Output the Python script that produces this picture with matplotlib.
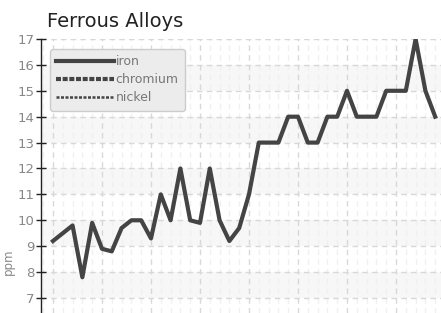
import numpy as np
import matplotlib
matplotlib.use("Agg")
from matplotlib import pyplot as plt
from matplotlib.ticker import MultipleLocator

# Data (ppm per sample)
iron = [9.2, 9.5, 9.8, 7.8, 9.9, 8.9, 8.8, 9.7, 10.0, 10.0,
        9.3, 11.0, 10.0, 12.0, 10.0, 9.9, 12.0, 10.0, 9.2, 9.7,
        11.0, 13.0, 13.0, 13.0, 14.0, 14.0, 13.0, 13.0, 14.0, 14.0,
        15.0, 14.0, 14.0, 14.0, 15.0, 15.0, 15.0, 17.0, 15.0, 14.0]
chromium = []
nickel = []
y_ticks = [7, 8, 9, 10, 11, 12, 13, 14, 15, 16, 17]

line_color = '#444444'
label_color = '#888888'

fig = plt.figure(figsize=(4.41, 3.13), dpi=100)
ax = fig.add_axes([41 / 441, 0.0, 1 - 41 / 441, 1 - 39 / 313])

# alternating background bands
for lo in range(7, 17, 2):
    ax.axhspan(lo, lo + 1, color='#f7f7f7', zorder=0, lw=0)

x = np.arange(len(iron))
ax.plot(x, iron, color=line_color, lw=3, label='iron', zorder=3)
ax.plot(np.arange(len(chromium)), chromium, color=line_color, lw=3,
        linestyle=(0, (1.2, 0.4)), label='chromium')
ax.plot(np.arange(len(nickel)), nickel, color=line_color, lw=1.8,
        linestyle=(0, (1.2, 0.6)), label='nickel')

ax.set_xlim(-1.22, 39.59)
ax.set_ylim(6.42, 17)
ax.set_yticks(y_ticks)
ax.xaxis.set_major_locator(MultipleLocator(5))
ax.xaxis.set_minor_locator(MultipleLocator(1))
ax.tick_params(axis='x', which='both', length=0, labelbottom=False)
ax.tick_params(axis='y', direction='inout', length=7, width=1, color='#222222',
               labelcolor=label_color, labelsize=9.5, pad=1)

ax.grid(axis='y', color='#d8d8d8', linestyle=(0, (4, 3)), lw=1)
ax.grid(axis='x', which='major', color='#d8d8d8', linestyle=(0, (4, 3)), lw=1)
ax.grid(axis='x', which='minor', color='#f0f0f0', linestyle=(0, (4, 3)), lw=1)
ax.set_axisbelow(True)

for s in ['top', 'right', 'bottom']:
    ax.spines[s].set_visible(False)
ax.spines['left'].set_color('#222222')
ax.spines['left'].set_linewidth(1)

ax.set_ylabel('ppm', color=label_color, fontsize=8.5)
ax.yaxis.set_label_coords(-0.065, 0.186)

leg = ax.legend(loc='upper left', bbox_to_anchor=(9 / 400, 0.9635), borderaxespad=0,
                handlelength=4.6, handletextpad=0.15, labelspacing=0.4, borderpad=0.5,
                frameon=True, fancybox=True, prop={'size': 9})
leg.get_frame().set_facecolor('#ececec')
leg.get_frame().set_edgecolor('#cccccc')
leg.get_frame().set_alpha(1)
for t in leg.get_texts():
    t.set_color('#777777')

fig.text(47 / 441, 1 - 27 / 313, 'Ferrous Alloys', fontsize=14, color='#222222',
         ha='left', va='baseline')

fig.savefig('out.png', dpi=100)
